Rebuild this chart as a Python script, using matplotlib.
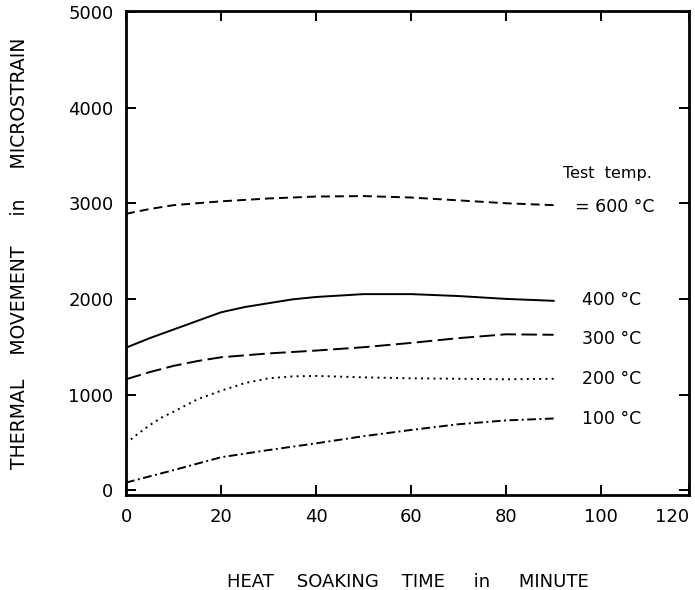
import numpy as np
import matplotlib
matplotlib.use("Agg")
from matplotlib import pyplot as plt

plt.rcParams["font.family"] = "DejaVu Sans"

# heat soaking time (minute) and thermal movement (microstrain)
t_600 = [0, 5, 10, 20, 30, 40, 50, 60, 70, 80, 90]
m_600 = [2890, 2940, 2980, 3020, 3050, 3070, 3075, 3060, 3030, 3000, 2980]

t_400 = [0, 5, 10, 15, 20, 25, 30, 35, 40, 50, 60, 70, 80, 90]
m_400 = [1490, 1590, 1680, 1770, 1860, 1915, 1955, 1995, 2020, 2050, 2050, 2030, 2000, 1980]

t_300 = [0, 5, 10, 15, 20, 30, 40, 50, 60, 70, 80, 90]
m_300 = [1160, 1235, 1300, 1350, 1390, 1430, 1460, 1495, 1540, 1590, 1630, 1625]

t_200 = [0, 2.5, 5, 7.5, 10, 15, 20, 25, 30, 35, 40, 50, 60, 70, 80, 90]
m_200 = [490, 590, 680, 760, 820, 950, 1040, 1120, 1170, 1190, 1195, 1180, 1170, 1165, 1160, 1165]

t_100 = [0, 10, 20, 30, 40, 50, 60, 70, 80, 90]
m_100 = [80, 210, 345, 420, 490, 565, 630, 690, 730, 750]

curve_labels = ["= 600 °C", "400 °C", "300 °C", "200 °C", "100 °C"]
label_y = [2960, 1990, 1580, 1160, 740]

fig = plt.figure(figsize=(6.95, 5.9), dpi=100)
ax = fig.add_axes([0.1813, 0.161, 0.8101, 0.8204])

lw = 1.4
ax.plot(t_600, m_600, color="black", lw=lw, linestyle=(0, (4.6, 2.6)))
ax.plot(t_400, m_400, color="black", lw=lw, linestyle="-")
ax.plot(t_300, m_300, color="black", lw=lw, linestyle=(0, (8.0, 2.8)))
ax.plot(t_200, m_200, color="black", lw=lw, linestyle=(0, (1.0, 2.2)))
ax.plot(t_100, m_100, color="black", lw=lw, linestyle=(0, (4.5, 1.8, 1.0, 1.8)))

ax.text(92, 3310, "Test  temp.", fontsize=11.5, ha="left", va="center")
for lab, yy in zip(curve_labels, label_y):
    x0 = 94.5 if lab.startswith("=") else 96
    ax.text(x0, yy, lab, fontsize=12.5, ha="left", va="center")

ax.set_xlim(0, 118.5)
ax.set_ylim(-50, 5010)
ax.set_xticks([0, 20, 40, 60, 80, 100, 118.5])
ax.set_xticklabels(["0", "20", "40", "60", "80", "100", "120"])
ax.get_xticklabels()[-1].set_horizontalalignment("right")
ax.set_yticks([0, 1000, 2000, 3000, 4000, 5000])
ax.tick_params(direction="in", length=7, width=1.4, top=True, right=True,
               labelsize=13, pad=9)
for s in ax.spines.values():
    s.set_linewidth(2.0)

ax.set_xlabel("HEAT    SOAKING    TIME     in     MINUTE", fontsize=13, labelpad=34)
ax.set_ylabel("THERMAL    MOVEMENT     in     MICROSTRAIN", fontsize=13.5, labelpad=28)

fig.savefig("out.png", dpi=100)
